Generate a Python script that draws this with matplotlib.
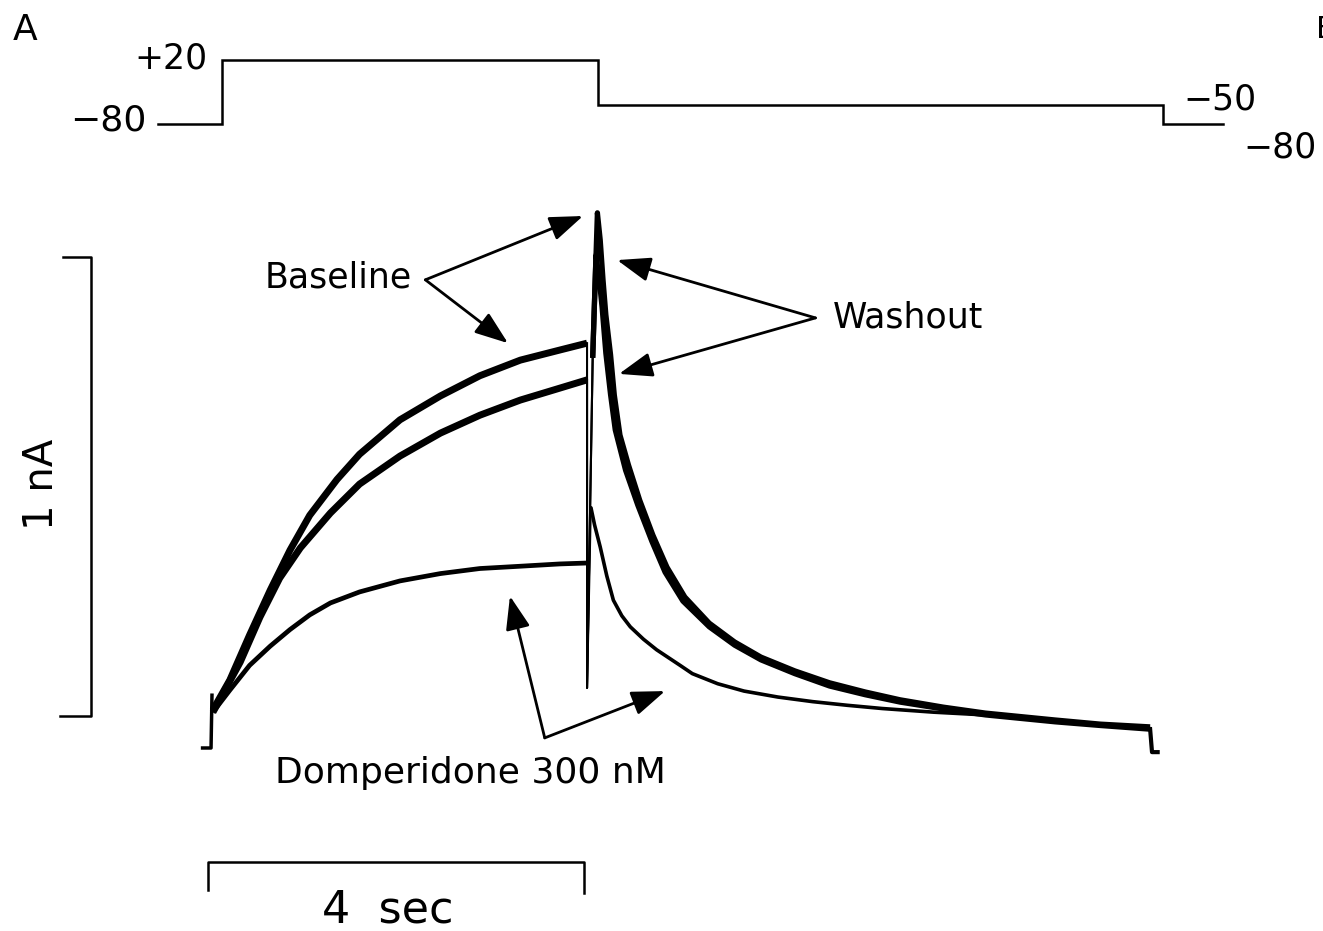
import matplotlib
matplotlib.use('Agg')
import matplotlib.pyplot as plt

# ---- voltage protocol (s, mV) ----
prot_t = [-0.57, 0.11, 0.11, 4.11, 4.11, 10.12, 10.12, 10.75]
prot_v = [-80, -80, 20, 20, -50, -50, -80, -80]

# ---- current traces (s, nA) ----
onset_t = [-0.10, -0.01, 0.0]
onset_i = [0.0, 0.0, 0.115]

base_step_t = [0.01, 0.19, 0.40, 0.62, 0.83, 1.04, 1.33, 1.57, 2.00, 2.43,
               2.85, 3.28, 3.70, 3.99]
base_step_i = [0.083, 0.148, 0.246, 0.344, 0.431, 0.507, 0.585, 0.640, 0.715,
               0.767, 0.811, 0.845, 0.867, 0.882]
wash_step_t = [0.01, 0.30, 0.51, 0.72, 0.94, 1.26, 1.57, 2.00, 2.43, 2.85,
               3.28, 3.70, 3.99]
wash_step_i = [0.078, 0.187, 0.285, 0.370, 0.436, 0.512, 0.575, 0.636, 0.686,
               0.725, 0.758, 0.784, 0.802]
domp_step_t = [0.01, 0.19, 0.40, 0.62, 0.83, 1.04, 1.26, 1.57, 2.00, 2.43,
               2.85, 3.28, 3.70, 3.99]
domp_step_i = [0.078, 0.126, 0.180, 0.222, 0.258, 0.290, 0.316, 0.340, 0.364,
               0.380, 0.391, 0.396, 0.401, 0.403]

trough_t, trough_i = 3.99, 0.131

base_tail_t = [4.05, 4.10, 4.13, 4.16, 4.19, 4.24, 4.28, 4.34, 4.43, 4.55,
               4.69, 4.84, 5.03, 5.29, 5.56, 5.84, 6.20, 6.57, 6.95, 7.32,
               7.78, 8.23, 8.97, 9.45, 9.98]
base_tail_i = [0.850, 1.166, 1.107, 1.020, 0.944, 0.857, 0.769, 0.682, 0.617,
               0.540, 0.464, 0.394, 0.329, 0.272, 0.231, 0.198, 0.168, 0.142,
               0.122, 0.105, 0.089, 0.076, 0.061, 0.052, 0.046]
wash_tail_t = [4.05, 4.085, 4.12, 4.15, 4.19, 4.24, 4.29, 4.40, 4.53, 4.68,
               4.82, 5.01, 5.29, 5.56, 5.84, 6.20, 6.57, 6.95, 7.32, 7.78,
               8.23, 8.97, 9.45, 9.98]
wash_tail_i = [0.850, 1.074, 1.020, 0.960, 0.860, 0.770, 0.693, 0.605, 0.529,
               0.450, 0.383, 0.320, 0.264, 0.224, 0.192, 0.162, 0.135, 0.116,
               0.100, 0.085, 0.072, 0.057, 0.049, 0.041]
domp_tail_t = [4.03, 4.07, 4.13, 4.20, 4.27, 4.36, 4.45, 4.59, 4.73, 4.98,
               5.11, 5.38, 5.66, 6.02, 6.39, 6.76, 7.13, 7.68, 8.23, 8.97,
               9.45, 9.98]
domp_tail_i = [0.525, 0.486, 0.438, 0.375, 0.322, 0.288, 0.264, 0.237, 0.214,
               0.180, 0.162, 0.140, 0.124, 0.111, 0.101, 0.093, 0.086, 0.078,
               0.072, 0.059, 0.050, 0.042]

offset_t = [9.98, 10.0, 10.06]
offset_i = [0.041, -0.009, -0.009]

fig = plt.figure(figsize=(13.23, 9.31), dpi=100)
ax = fig.add_axes([0, 0, 1, 1])
ax.set_xlim(-2.255, 11.819)
ax.set_ylim(-0.3987, 1.6296)
ax.axis('off')

axv = fig.add_axes([0, 0, 1, 1], sharex=ax)
axv.set_ylim(-1340.9, 113.75)
axv.patch.set_alpha(0)
axv.axis('off')

FS = 25
K = 'black'

# voltage protocol
axv.plot(prot_t, prot_v, color=K, lw=1.8, solid_joinstyle='miter')
axv.text(-0.05, 22, '+20', ha='right', va='center', fontsize=FS)
axv.text(-0.70, -75, '\u221280', ha='right', va='center', fontsize=26)
axv.text(10.33, -42, '\u221250', ha='left', va='center', fontsize=FS)
axv.text(10.97, -116, '\u221280', ha='left', va='center', fontsize=FS)

# traces
ax.plot(onset_t, onset_i, color=K, lw=2.5)
steps = [(base_step_t, base_step_i, 5.0), (wash_step_t, wash_step_i, 5.0),
         (domp_step_t, domp_step_i, 3.4)]
tails = [(base_tail_t, base_tail_i, 3.8), (wash_tail_t, wash_tail_i, 3.8),
         (domp_tail_t, domp_tail_i, 2.6)]
for (st, si, lw1), (tt, ti, lw2) in zip(steps, tails):
    ax.plot(st, si, color=K, lw=lw1, solid_capstyle='butt', solid_joinstyle='round')
    ax.plot([st[-1], trough_t, tt[0]], [si[-1], trough_i, ti[0]], color=K, lw=1.5)
    ax.plot(tt, ti, color=K, lw=lw2, solid_capstyle='butt', solid_joinstyle='round')
ax.plot(offset_t, offset_i, color=K, lw=3)

# scale bars
ax.plot([-1.585, -1.287, -1.287, -1.62], [1.07, 1.07, 0.07, 0.07], color=K, lw=1.8)
ax.text(-1.81, 0.575, '1 nA', rotation=90, ha='center', va='center', fontsize=29)
ax.plot([-0.043, -0.043, 3.957, 3.957], [-0.31, -0.248, -0.248, -0.315], color=K, lw=1.8)
ax.text(1.87, -0.352, '4  sec', ha='center', va='center', fontsize=32)

# annotations
arrow = dict(arrowstyle='-|>,head_length=0.6,head_width=0.22', color=K, lw=2,
             shrinkA=0, shrinkB=0, mutation_scale=34)
ax.text(0.56, 1.026, 'Baseline', ha='left', va='center', fontsize=FS)
for tip in [(3.947, 1.159), (3.149, 0.882)]:
    ax.annotate('', xy=tip, xytext=(2.27, 1.02), arrowprops=arrow)
ax.text(6.60, 0.937, 'Washout', ha='left', va='center', fontsize=FS)
for tip in [(4.31, 1.063), (4.33, 0.815)]:
    ax.annotate('', xy=tip, xytext=(6.42, 0.937), arrowprops=arrow)
ax.text(0.67, -0.054, 'Domperidone 300 nM', ha='left', va='center', fontsize=26)
for tip in [(3.17, 0.331), (4.82, 0.124)]:
    ax.annotate('', xy=tip, xytext=(3.54, 0.022), arrowprops=arrow)

fig.text(13 / 1323, 1 - 30 / 931, 'A', ha='left', va='center', fontsize=26)
fig.text(1316 / 1323, 1 - 30 / 931, 'B', ha='left', va='center', fontsize=22)

fig.savefig('out.png', dpi=100, facecolor='white')
